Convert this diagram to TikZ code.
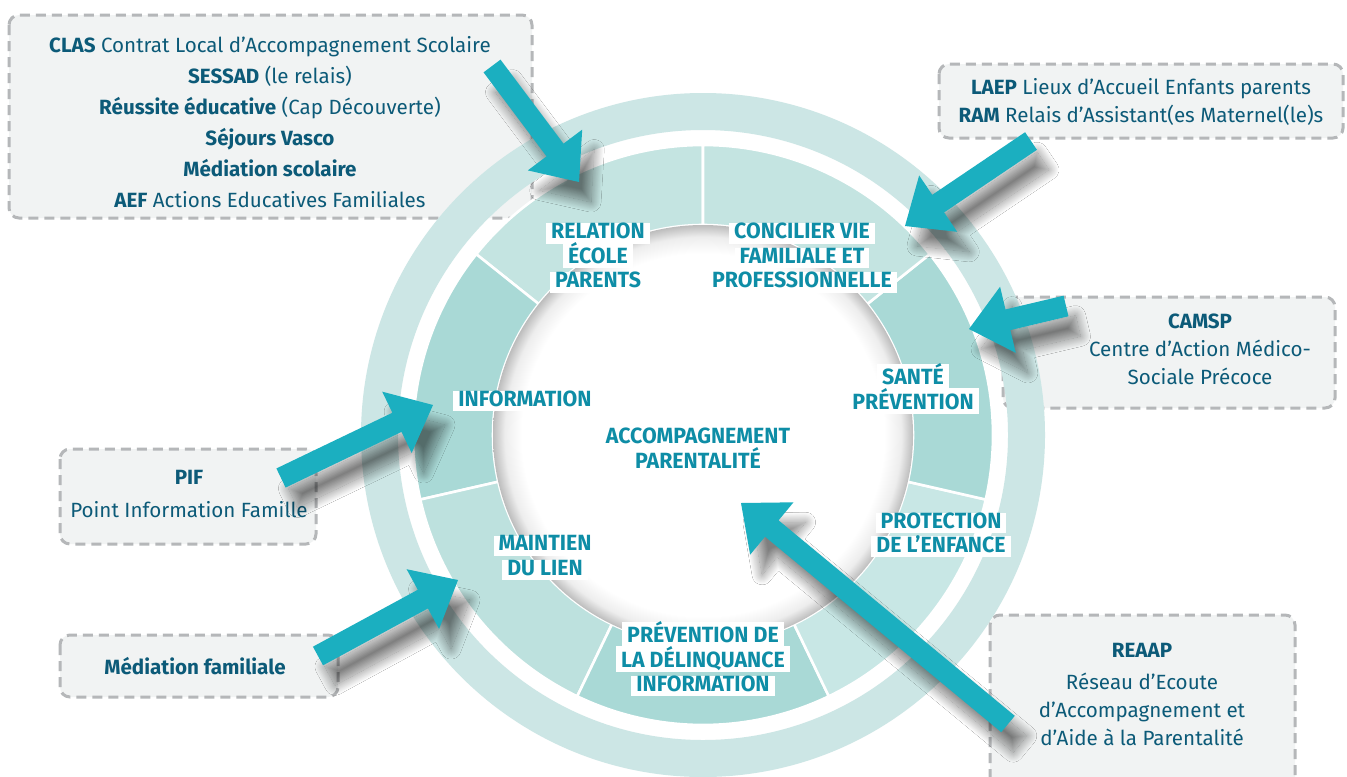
\documentclass[tikz,border=0pt]{standalone}
\usepackage{fontspec}
\setmainfont{Fira Sans}
\newfontfamily\lblfont[FakeStretch=0.97]{Fira Sans}
\usetikzlibrary{calc,shadows.blur}
\definecolor{boxfill}{HTML}{F1F3F3}
\definecolor{boxline}{HTML}{B5B7B9}
\definecolor{boxtext}{HTML}{0C5A78}
\definecolor{lbltext}{HTML}{0E8DA6}
\definecolor{arrowc}{HTML}{1BAFC0}
\definecolor{outerring}{HTML}{CCE6E5}
\definecolor{segL}{HTML}{C4E4E1}
\definecolor{segD}{HTML}{A9D9D6}
\definecolor{segM}{HTML}{BDE1DE}
\definecolor{segP}{HTML}{C8E7E5}
\pgfdeclareradialshading{innershade}{\pgfpointorigin}{color(0bp)=(white); color(21.6bp)=(white); color(23.6bp)=(black!7); color(25bp)=(black!26); color(50bp)=(black!26)}
\setlength{\fboxsep}{0pt}
\newcommand\lbl[1]{\colorbox{white}{\hspace{2.5pt}\rule[-0.22em]{0pt}{0.9em}#1\hspace{2.5pt}}}
\newcommand\ringseg[3]{%
  \fill[#3, draw=white, line width=1.3pt] ($(C)+(#1:145pt)$) arc[start angle=#1, end angle=#2, radius=145pt]
    -- ($(C)+(#2:105pt)$) arc[start angle=#2, end angle=#1, radius=105pt] -- cycle;}
\newcommand\bigarrow[2]{%
  \path ($(#2)!20pt!(#1)$) coordinate (#2-b);
  \fill[arrowstyle] ($(#1)!5.3pt!90:(#2)$) -- ($(#2-b)!5.3pt!90:(#2)$) -- ($(#2-b)!17pt!90:(#2)$)
    -- (#2) -- ($(#2-b)!17pt!-90:(#2)$) -- ($(#2-b)!5.3pt!-90:(#2)$) -- ($(#1)!5.3pt!-90:(#2)$) -- cycle;}
\tikzset{
  arrowstyle/.style={fill=arrowc, blur shadow={shadow xshift=6pt, shadow yshift=-10pt, shadow blur radius=5pt, shadow opacity=50, shadow blur steps=30}},
  infobox/.style={fill=boxfill, draw=boxline, line width=1.5pt, dash pattern=on 5pt off 3pt, rounded corners=5pt},
  boxtxt/.style={text=boxtext, align=center, inner sep=0pt, font={\fontsize{10.3}{15.5}\selectfont}},
  ringlbl/.style={text=lbltext, align=center, inner sep=0pt, font={\lblfont\bfseries\fontsize{11}{12.25}\selectfont\lineskiplimit=-5pt}},
}
\begin{document}
\begin{tikzpicture}[x=0.5pt, y=-0.5pt]
\useasboundingbox (0,0) rectangle (1347,776);
\clip (0,0) rectangle (1347,776);
\fill[white] (0,0) rectangle (1347,776);
% info boxes
\draw[infobox] (9,15) rectangle (532,218);
\draw[infobox] (939,64) rectangle (1343,138);
\draw[infobox] (1003,297) rectangle (1335,408);
\draw[infobox] (60,449) rectangle (316,544);
\draw[infobox] (60,635) rectangle (338,697);
\draw[infobox] (990,615) rectangle (1295,800);
\node[boxtxt] (clas) at (270,122) {\textbf{CLAS} Contrat Local d’Accompagnement Scolaire\\ \textbf{SESSAD} (le relais)\\ \textbf{Réussite éducative} (Cap Découverte)\\ \textbf{Séjours Vasco}\\ \textbf{Médiation scolaire}\\ \textbf{AEF} Actions Educatives Familiales};
\node[boxtxt, font={\fontsize{10.3}{14}\selectfont}] (laep) at (1141,102) {\textbf{LAEP} Lieux d’Accueil Enfants parents\\ \textbf{RAM} Relais d’Assistant(es Maternel(le)s};
\node[boxtxt, font={\fontsize{10.3}{14}\selectfont}] (camsp) at (1200,349) {\textbf{CAMSP}\\ Centre d’Action Médico-\\ Sociale Précoce};
\node[boxtxt, font={\fontsize{10.3}{16.5}\selectfont}] (pif) at (189,494) {\textbf{PIF}\\ Point Information Famille};
\node[boxtxt] (medfam) at (195,666) {\textbf{Médiation familiale}};
\node[boxtxt, font={\fontsize{10.3}{14}\selectfont}] (reaap) at (1142,694) {\textbf{REAAP}\\[2pt] Réseau d’Ecoute\\ d’Accompagnement et\\ d’Aide à la Parentalité};
% ring
\coordinate (C) at (703,435);
\fill[outerring, even odd rule] (C) circle[radius=171pt] (C) circle[radius=152.5pt];
\ringseg{90}{141.43}{segL}
\ringseg{141.43}{192.86}{segD}
\ringseg{192.86}{244.29}{segM}
\ringseg{244.29}{295.71}{segD}
\ringseg{295.71}{347.14}{segP}
\ringseg{-12.86}{38.57}{segD}
\ringseg{38.57}{90}{segL}
\shade[shading=innershade] (C) circle[radius=105pt];
% ring labels
\node[ringlbl] (relation) at (598,258) {\lbl{RELATION}\\ \lbl{ÉCOLE}\\ \lbl{PARENTS}};
\node[ringlbl] (concilier) at (802,258) {\lbl{CONCILIER VIE}\\ \lbl{FAMILIALE ET}\\ \lbl{PROFESSIONNELLE}};
\node[ringlbl] (information) at (525,401) {\lbl{INFORMATION}};
\node[ringlbl] (sante) at (913,389) {\lbl{SANTÉ}\\ \lbl{PRÉVENTION}};
\node[ringlbl] (accomp) at (698,448) {ACCOMPAGNEMENT\\ PARENTALITÉ};
\node[ringlbl] (protection) at (941,535) {\lbl{PROTECTION}\\ \lbl{DE L’ENFANCE}};
\node[ringlbl] (maintien) at (545,558) {\lbl{MAINTIEN}\\ \lbl{DU LIEN}};
\node[ringlbl] (prevention) at (703,659) {\lbl{PRÉVENTION DE}\\ \lbl{LA DÉLINQUANCE}\\ \lbl{INFORMATION}};
% arrows
\coordinate (a1t) at (492,66);   \coordinate (a1h) at (579,182);
\coordinate (a2t) at (1031,141); \coordinate (a2h) at (905,226);
\coordinate (a3t) at (1066,306); \coordinate (a3h) at (969,329);
\coordinate (a4t) at (281,478);  \coordinate (a4h) at (433,405);
\coordinate (a5t) at (318,656);  \coordinate (a5h) at (458,580);
\coordinate (a6t) at (1008,724); \coordinate (a6h) at (741,503);
\bigarrow{a1t}{a1h}
\bigarrow{a2t}{a2h}
\bigarrow{a3t}{a3h}
\bigarrow{a4t}{a4h}
\bigarrow{a5t}{a5h}
\bigarrow{a6t}{a6h}
\end{tikzpicture}
\end{document}
